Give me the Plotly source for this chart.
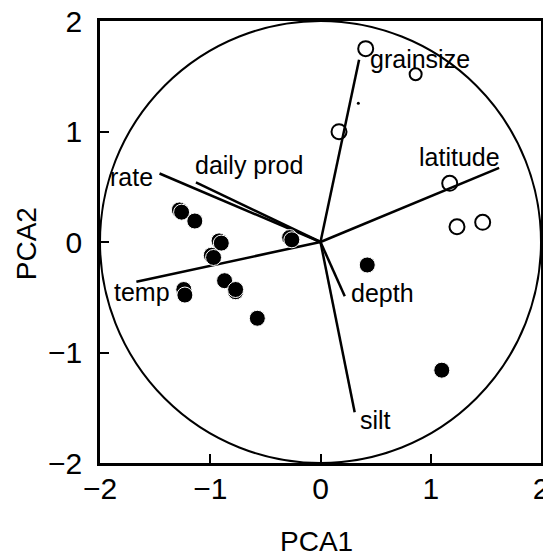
import plotly.graph_objects as go

# Loading vectors (end points, origin at 0,0)
var_names = ["rate", "daily prod", "temp", "grainsize", "latitude", "depth", "silt"]
load_x = [-1.46, -1.13, -1.67, 0.35, 1.62, 0.22, 0.31]
load_y = [0.62, 0.54, -0.36, 1.65, 0.67, -0.49, -1.54]
# label anchor positions (left edge, vertical middle)
lab_x = [-1.925, -1.156, -1.894, 0.428, 0.875, 0.259, 0.343]
lab_y = [0.59, 0.70, -0.45, 1.656, 0.765, -0.457, -1.611]

# Filled sites (pairs overlap slightly)
filled_x = [-1.28, -1.26, -1.14, -0.92, -0.90, -0.99, -0.97, -0.28, -0.26,
            -1.24, -1.23, -0.87, -0.77, -0.77, -0.573, 0.424, 1.10]
filled_y = [0.29, 0.27, 0.19, 0.01, -0.01, -0.12, -0.14, 0.04, 0.02,
            -0.43, -0.48, -0.35, -0.45, -0.43, -0.69, -0.208, -1.16]

# Open sites
open_x = [0.41, 0.168, 1.172, 1.238, 1.471]
open_y = [1.75, 0.998, 0.531, 0.138, 0.178]
open_small_x = [0.863]
open_small_y = [1.518]
speck_x = [0.343]
speck_y = [1.255]

fig = go.Figure()

# circle
fig.add_shape(type="circle", x0=-2, x1=2, y0=-2, y1=2, xref="x", yref="y",
              line=dict(color="black", width=2))

for i, name in enumerate(var_names):
    fig.add_trace(go.Scatter(x=[0, load_x[i]], y=[0, load_y[i]], mode="lines",
                             line=dict(color="black", width=2.5),
                             showlegend=False, hoverinfo="skip"))

fig.add_trace(go.Scatter(x=filled_x, y=filled_y, mode="markers",
                         marker=dict(size=16, color="black",
                                     line=dict(color="white", width=1)),
                         showlegend=False))
fig.add_trace(go.Scatter(x=open_x, y=open_y, mode="markers",
                         marker=dict(size=15, symbol="circle-open", color="black",
                                     line=dict(color="black", width=2)),
                         showlegend=False))
fig.add_trace(go.Scatter(x=open_small_x, y=open_small_y, mode="markers",
                         marker=dict(size=12, symbol="circle-open", color="black",
                                     line=dict(color="black", width=2)),
                         showlegend=False))
fig.add_trace(go.Scatter(x=speck_x, y=speck_y, mode="markers",
                         marker=dict(size=3, color="black"),
                         showlegend=False))

font_family = "Liberation Sans, Arial, Helvetica, sans-serif"

for i, name in enumerate(var_names):
    fig.add_annotation(x=lab_x[i], y=lab_y[i], text=name, showarrow=False,
                       xanchor="left", yanchor="middle",
                       font=dict(family=font_family, size=25, color="black"))

fig.add_annotation(xref="paper", yref="paper", x=0.492, y=-0.178, text="PCA1",
                   showarrow=False, xanchor="center", yanchor="middle",
                   font=dict(family=font_family, size=28, color="black"))
fig.add_annotation(xref="paper", yref="paper", x=-0.168, y=0.497, text="PCA2",
                   showarrow=False, xanchor="center", yanchor="middle", textangle=-90,
                   font=dict(family=font_family, size=28, color="black"))

axis_common = dict(range=[-2, 2], tickvals=[-2, -1, 0, 1, 2], automargin=False,
                   showgrid=False, zeroline=False, showline=True, mirror=True,
                   linecolor="black", linewidth=2.5, ticks="inside", ticklen=9,
                   tickwidth=2, tickcolor="black", ticklabeloverflow="allow",
                   tickfont=dict(family=font_family, size=30, color="black"))

fig.update_layout(
    width=543, height=558,
    margin=dict(l=100, r=2, t=21, b=95, autoexpand=False),
    plot_bgcolor="white", paper_bgcolor="white",
    xaxis=dict(**axis_common, ticklabelstandoff=-3),
    yaxis=dict(**axis_common, ticklabelstandoff=9),
    showlegend=False,
)

fig.write_html("out.html")
